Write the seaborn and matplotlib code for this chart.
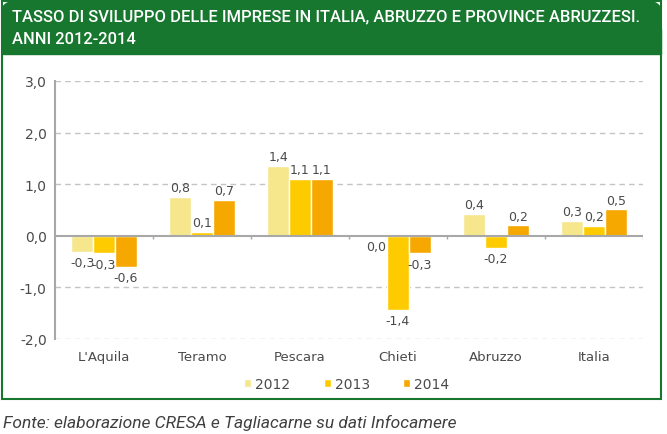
import numpy as np
import pandas as pd
import seaborn as sns
from matplotlib import pyplot as plt
from matplotlib.patches import Rectangle, FancyBboxPatch
from matplotlib.ticker import FuncFormatter

aree = ["L'Aquila", 'Teramo', 'Pescara', 'Chieti', 'Abruzzo', 'Italia']
anni = ['2012', '2013', '2014']
v2012 = [-0.32, 0.76, 1.36, 0.0, 0.42, 0.29]
v2013 = [-0.34, 0.08, 1.11, -1.44, -0.23, 0.19]
v2014 = [-0.60, 0.70, 1.11, -0.34, 0.20, 0.51]
colori = ['#f6e68c', '#fecb00', '#f6a800']

df = pd.DataFrame({
    'area': aree * 3,
    'anno': [a for a in anni for _ in aree],
    'valore': v2012 + v2013 + v2014,
})

sns.set_style('white')
plt.rcParams['font.family'] = ['DejaVu Sans']

fig = plt.figure(figsize=(6.67, 4.35), dpi=100)
ax = fig.add_axes([55/667, 1 - 340/435, 588/667, 258/435])

sns.barplot(data=df, x='area', y='valore', hue='anno', palette=colori,
            width=0.67, saturation=1, errorbar=None, ax=ax, zorder=3)

ax.set_ylim(-2, 3)
ax.set_xlim(-0.5, 5.5)
ax.set_yticks([-2, -1, 0, 1, 2, 3])
ax.yaxis.set_major_formatter(FuncFormatter(lambda v, p: f"{v:.1f}".replace('.', ',')))
ax.set_xlabel('')
ax.set_ylabel('')
for y in [-2, -1, 1, 2, 3]:
    ax.axhline(y, color='#c4c4c4', lw=1, ls=(0, (4, 3)), zorder=1)
ax.axhline(0, color='#a8a8a8', lw=1.5, zorder=4)
ax.vlines(np.arange(0.5, 6.0, 1.0), -0.06, 0, color='#a8a8a8', lw=1, zorder=4)

for s in ['top', 'right', 'bottom']:
    ax.spines[s].set_visible(False)
ax.spines['left'].set_color('#a8a8a8')
ax.spines['left'].set_linewidth(1.5)
ax.tick_params(axis='y', length=3, color='#a8a8a8', labelsize=10, labelcolor='#4a4a4a', pad=3)
ax.tick_params(axis='x', length=0, labelsize=9.5, labelcolor='#4a4a4a', pad=8)

for cont, vals in zip(ax.containers, [v2012, v2013, v2014]):
    for bar, v in zip(cont, vals):
        testo = f"{v:.1f}".replace('.', ',')
        x = bar.get_x() + bar.get_width() / 2
        if v > 0:
            ax.annotate(testo, (x, v), textcoords='offset points', xytext=(0, 2),
                        ha='center', va='bottom', fontsize=9, color='#4a4a4a', zorder=5)
        else:
            ax.annotate(testo, (x, v), textcoords='offset points', xytext=(0, -3),
                        ha='center', va='top', fontsize=9, color='#4a4a4a', zorder=5)

ax.legend(loc='center', bbox_to_anchor=(0.52, 1 - 385/435), bbox_transform=fig.transFigure,
          ncol=3, frameon=False, handlelength=0.5, handleheight=0.5, handletextpad=0.3,
          columnspacing=2.4, fontsize=10, labelcolor='#4a4a4a')

verde = '#17772f'
fig.patches.append(Rectangle((2/667, 1 - 400/435), 659/667, 398/435, transform=fig.transFigure,
                             fill=False, edgecolor=verde, lw=1.5, zorder=0))
fig.patches.append(FancyBboxPatch((2/667, 1 - 55/435), 659/667, 53/435, transform=fig.transFigure,
                                  boxstyle='round,pad=0,rounding_size=0.025', facecolor=verde,
                                  edgecolor=verde, zorder=1))
fig.patches.append(Rectangle((2/667, 1 - 55/435), 659/667, 25/435, transform=fig.transFigure,
                             facecolor=verde, edgecolor=verde, zorder=1))

t1 = fig.text(12/667, 1 - 17/435, 'TASSO DI SVILUPPO DELLE IMPRESE IN ITALIA, ABRUZZO E PROVINCE ABRUZZESI.',
              color='white', fontsize=12, va='center', ha='left', weight='medium',
              family=['Roboto', 'DejaVu Sans'])
t2 = fig.text(12/667, 1 - 40/435, 'ANNI 2012-2014',
              color='white', fontsize=12, va='center', ha='left', weight='medium',
              family=['Roboto', 'DejaVu Sans'])
nota = fig.text(3/667, 1 - 423/435, 'Fonte: elaborazione CRESA e Tagliacarne su dati Infocamere',
                color='#404040', fontsize=11, style='italic', va='center', ha='left',
                family=['Roboto', 'DejaVu Sans'])

# adatta le larghezze a quelle del riferimento
r = fig.canvas.get_renderer()
fs = 12 * 628 / t1.get_window_extent(r).width
t1.set_fontsize(fs)
t2.set_fontsize(fs)
nota.set_fontsize(11 * 452 / nota.get_window_extent(r).width)

fig.savefig('out.png', dpi=100, facecolor='white')
